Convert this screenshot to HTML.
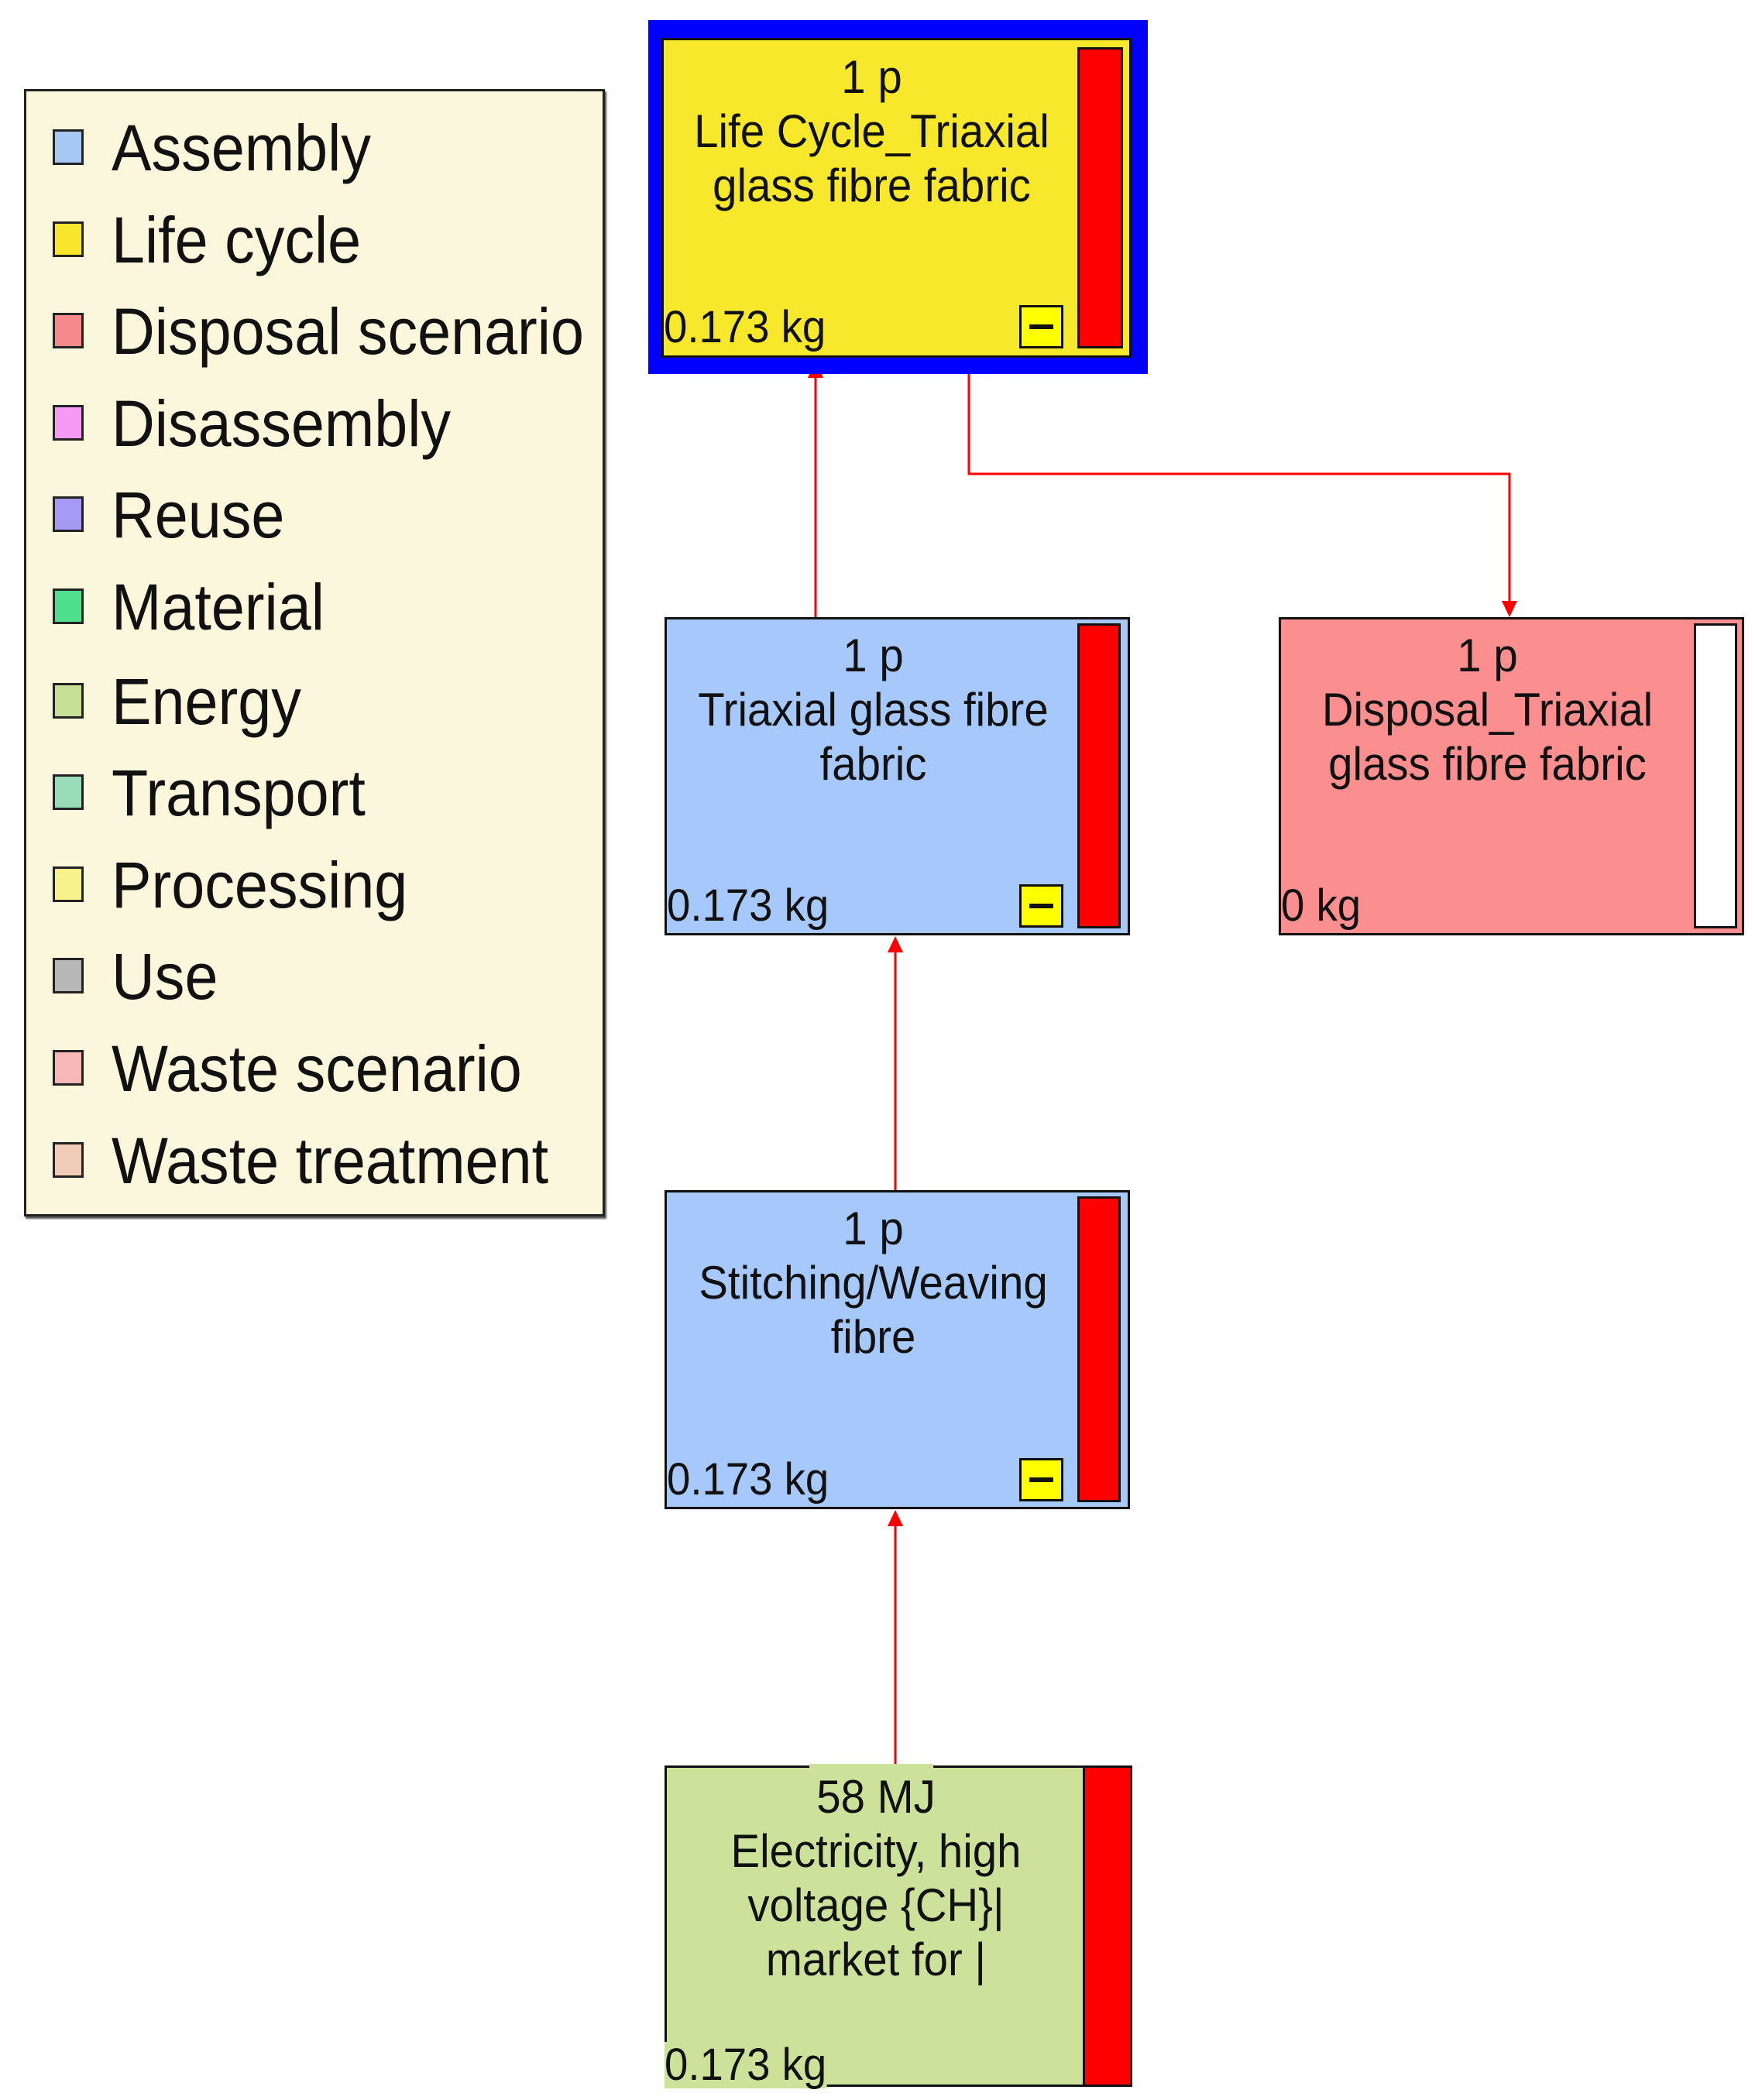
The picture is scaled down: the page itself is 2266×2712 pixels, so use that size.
<!DOCTYPE html>
<html><head><meta charset="utf-8"><style>
body{margin:0;width:2266px;height:2712px;background:#fff;position:relative;overflow:hidden;font-family:"Liberation Sans",sans-serif;color:#111}
.a{position:absolute}
.legend{left:31px;top:115px;width:744px;height:1450px;background:#fbf7dc;border:3px solid #222;box-shadow:2px 3px 2px #555}
.li{position:absolute;left:34px;height:118px;line-height:118px;font-size:84px;white-space:nowrap}
.li i{position:absolute;left:0;top:35px;width:40px;height:46px;border:3px solid #222;box-sizing:border-box}
.li span{position:absolute;left:76px;top:0;display:inline-block;transform:scaleX(0.92);transform-origin:left center}
.node{position:absolute;border:3px solid #111;box-sizing:border-box}
.t{position:absolute;font-size:60px;line-height:70px;text-align:center;white-space:nowrap;transform:scaleX(0.94)}
.kg{position:absolute;font-size:58px;line-height:60px;white-space:nowrap;transform:scaleX(0.94);transform-origin:left center}
.bar{position:absolute;background:#f00;border:3px solid #111;box-sizing:border-box}
.minus{position:absolute;width:57px;height:56px;background:#ff0;border:3px solid #111;box-sizing:border-box}
.minus:after{content:"";position:absolute;left:10px;right:10px;top:22px;height:6px;background:#111}
</style></head><body>

<div class="a legend">
<div class="li" style="top:14px"><i style="background:#a6c8f5"></i><span>Assembly</span></div>
<div class="li" style="top:133px"><i style="background:#f7e62c"></i><span>Life cycle</span></div>
<div class="li" style="top:251px"><i style="background:#f78a8a"></i><span>Disposal scenario</span></div>
<div class="li" style="top:370px"><i style="background:#f59af5"></i><span>Disassembly</span></div>
<div class="li" style="top:488px"><i style="background:#a69af5"></i><span>Reuse</span></div>
<div class="li" style="top:607px"><i style="background:#4ee08c"></i><span>Material</span></div>
<div class="li" style="top:729px"><i style="background:#c5df94"></i><span>Energy</span></div>
<div class="li" style="top:847px"><i style="background:#98dcb8"></i><span>Transport</span></div>
<div class="li" style="top:966px"><i style="background:#f7f28c"></i><span>Processing</span></div>
<div class="li" style="top:1084px"><i style="background:#b8b8b8"></i><span>Use</span></div>
<div class="li" style="top:1203px"><i style="background:#f9b8b8"></i><span>Waste scenario</span></div>
<div class="li" style="top:1322px"><i style="background:#efcbb8"></i><span>Waste treatment</span></div>
</div>

<svg class="a" style="left:0;top:0" width="2266" height="2712">
<g stroke="#f00" stroke-width="3" fill="none">
<line x1="1053" y1="797" x2="1053" y2="480"/>
<polyline points="1251,462 1251,612 1949,612 1949,782"/>
<line x1="1156" y1="1537" x2="1156" y2="1222"/>
<line x1="1156" y1="2280" x2="1156" y2="1962"/>
</g>
<g fill="#f00">
<polygon points="1053,465 1043,488 1063,488"/>
<polygon points="1949,797 1939,776 1959,776"/>
<polygon points="1156,1209 1146,1230 1166,1230"/>
<polygon points="1156,1950 1146,1971 1166,1971"/>
</g>
</svg>

<div class="a" style="left:837px;top:26px;width:645px;height:457px;background:#0000ff"></div>
<div class="node" style="left:854px;top:49px;width:607px;height:413px;background:#f8e82c">
<div class="t" style="left:0;width:537px;top:13px">1 p<br>Life Cycle_Triaxial<br>glass fibre fabric</div>
<div class="kg" style="left:0;top:341px">0.173 kg</div>
<div class="minus" style="left:459px;top:342px"></div>
<div class="bar" style="left:534px;top:9px;width:59px;height:389px"></div>
</div>

<div class="node" style="left:858px;top:797px;width:601px;height:411px;background:#a6c8fa">
<div class="t" style="left:0;width:533px;top:12px">1 p<br>Triaxial glass fibre<br>fabric</div>
<div class="kg" style="left:0;top:340px">0.173 kg</div>
<div class="minus" style="left:455px;top:342px"></div>
<div class="bar" style="left:530px;top:5px;width:56px;height:394px"></div>
</div>

<div class="node" style="left:1651px;top:797px;width:601px;height:411px;background:#fb8e8e">
<div class="t" style="left:0;width:533px;top:12px">1 p<br>Disposal_Triaxial<br>glass fibre fabric</div>
<div class="kg" style="left:0;top:340px">0 kg</div>
<div class="bar" style="left:533px;top:5px;width:56px;height:394px;background:#fff"></div>
</div>

<div class="node" style="left:858px;top:1537px;width:601px;height:412px;background:#a6c8fa">
<div class="t" style="left:0;width:533px;top:12px">1 p<br>Stitching/Weaving<br>fibre</div>
<div class="kg" style="left:0;top:341px">0.173 kg</div>
<div class="minus" style="left:455px;top:343px"></div>
<div class="bar" style="left:530px;top:5px;width:56px;height:395px"></div>
</div>

<div class="node" style="left:858px;top:2280px;width:601px;height:415px;background:#cce29a">
<div class="t" style="left:0;width:540px;top:3px">58 MJ<br>Electricity, high<br>voltage {CH}|<br>market for |</div>
<div class="kg" style="left:-3px;top:354px;background:#cce29a">0.173 kg</div>
<div class="bar" style="left:537px;top:-3px;width:64px;height:415px"></div>
</div>
<div class="a" style="left:1045px;top:2278px;width:160px;height:5px;background:#cce29a"></div>

</body></html>
